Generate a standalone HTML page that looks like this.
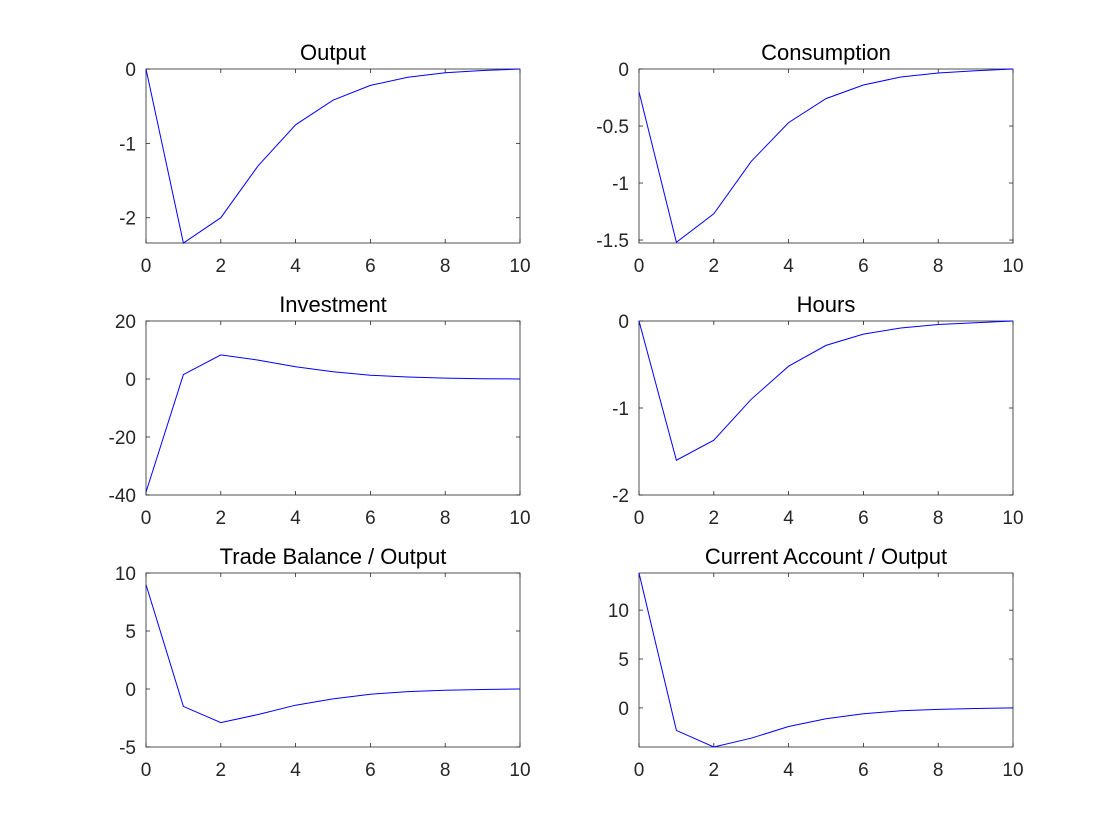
<!DOCTYPE html>
<html><head><meta charset="utf-8"><style>
body{margin:0;background:#fff;}
svg{display:block;font-family:"Liberation Sans",sans-serif;}
</style></head><body>
<svg id="fig" width="1120" height="840" viewBox="0 0 1120 840"></svg>
<script>
const xValues=[0,1,2,3,4,5,6,7,8,9,10];
const xTicks=[0,2,4,6,8,10];
const outputVals=[0,-2.34,-2.0,-1.3,-0.75,-0.42,-0.22,-0.11,-0.05,-0.02,0];
const consumptionVals=[-0.2,-1.52,-1.27,-0.81,-0.47,-0.26,-0.14,-0.07,-0.035,-0.015,0];
const investmentVals=[-39,1.5,8.3,6.5,4.2,2.5,1.3,0.7,0.3,0.1,0];
const hoursVals=[0,-1.6,-1.37,-0.9,-0.52,-0.28,-0.15,-0.08,-0.04,-0.02,0];
const tradeVals=[9,-1.5,-2.9,-2.2,-1.4,-0.85,-0.45,-0.22,-0.1,-0.04,0];
const caVals=[13.8,-2.3,-4.0,-3.1,-1.9,-1.1,-0.6,-0.3,-0.15,-0.06,0];
const titles=["Output","Consumption","Investment","Hours","Trade Balance / Output","Current Account / Output"];
const series=[outputVals,consumptionVals,investmentVals,hoursVals,tradeVals,caVals];
const yRanges=[[-2.34,0],[-1.526,0],[-40,20],[-2,0],[-5,10],[-4,13.8]];
const yTicks=[[-2,-1,0],[-1.5,-1,-0.5,0],[-40,-20,0,20],[-2,-1,0],[-5,0,5,10],[0,5,10]];
const names=["output","consumption","investment","hours","trade-balance","current-account"];
const NS="http://www.w3.org/2000/svg";
const svg=document.getElementById('fig');
function mk(t,a,p){const e=document.createElementNS(NS,t);for(const k in a)e.setAttribute(k,a[k]);(p||svg).appendChild(e);return e;}
const lefts=[146,639], tops=[69,321,573], W=374, H=174;
series.forEach((vals,i)=>{
  const x0=lefts[i%2], y0=tops[Math.floor(i/2)];
  const [ymin,ymax]=yRanges[i];
  const X=v=>x0+v/10*W, Y=v=>y0+(ymax-v)/(ymax-ymin)*H;
  const g=mk('g',{});
  
  
  const box=mk('rect',{x:x0,y:y0,width:W,height:H,fill:'#fff',stroke:'#262626','stroke-width':0.8},g);
  
  
  xTicks.forEach(t=>{
    const x=X(t);
    mk('line',{x1:x,x2:x,y1:y0+H,y2:y0+H-4,stroke:'#262626','stroke-width':0.8},g);
    mk('line',{x1:x,x2:x,y1:y0,y2:y0+4,stroke:'#262626','stroke-width':0.8},g);
    const tx=mk('text',{x:x,y:y0+H+29,'text-anchor':'middle','font-size':19,fill:'#262626'},g);
    tx.textContent=t;
    
    
  });
  yTicks[i].forEach(t=>{
    const y=Y(t);
    mk('line',{x1:x0,x2:x0+4,y1:y,y2:y,stroke:'#262626','stroke-width':0.8},g);
    mk('line',{x1:x0+W,x2:x0+W-4,y1:y,y2:y,stroke:'#262626','stroke-width':0.8},g);
    const ty=mk('text',{x:x0-10,y:y+7,'text-anchor':'end','font-size':19,fill:'#262626'},g);
    ty.textContent=t;
    
    
  });
  const tt=mk('text',{x:x0+W/2,y:y0-9,'text-anchor':'middle','font-size':22,fill:'#000'},g);
  tt.textContent=titles[i];
  
  
  const pts=vals.map((v,k)=>X(xValues[k]).toFixed(1)+','+Y(v).toFixed(1)).join(' ');
  const pl=mk('polyline',{points:pts,fill:'none',stroke:'#0000ff','stroke-width':1},g);
  
  
});
</script>
</body></html>
